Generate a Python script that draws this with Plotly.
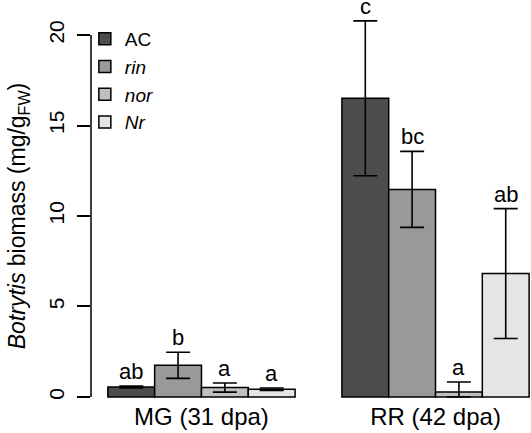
import plotly.graph_objects as go

groups = ["MG (31 dpa)", "RR (42 dpa)"]
genotypes = ["AC", "rin", "nor", "Nr"]
legend_names = ["AC", "<i>rin</i>", "<i>nor</i>", "<i>Nr</i>"]
colors = ["#4D4D4D", "#999999", "#BFBFBF", "#E5E5E5"]

# mean biomass per genotype, [MG, RR]
AC_vals = [0.55, 16.5]
rin_vals = [1.75, 11.47]
nor_vals = [0.52, 0.28]
Nr_vals = [0.43, 6.82]

AC_err = [0.05, 4.28]
rin_err = [0.72, 2.10]
nor_err_plus = [0.25, 0.55]
nor_err_minus = [0.25, 0.28]
Nr_err = [0.07, 3.59]

AC_letters = ["ab", "c"]
rin_letters = ["b", "bc"]
nor_letters = ["a", "a"]
Nr_letters = ["a", "ab"]

values = [AC_vals, rin_vals, nor_vals, Nr_vals]
err_plus = [AC_err, rin_err, nor_err_plus, Nr_err]
err_minus = [AC_err, rin_err, nor_err_minus, Nr_err]
letters = [AC_letters, rin_letters, nor_letters, Nr_letters]

FONT = "Liberation Sans, Arial, sans-serif"

fig = go.Figure()
annotations = []
for i, g in enumerate(genotypes):
    xs = [1 + gi * 5 + i + 0.5 for gi in range(len(groups))]
    fig.add_trace(go.Bar(
        x=xs, y=values[i], width=1, name=legend_names[i],
        marker=dict(color=colors[i], line=dict(color="black", width=1.5)),
        error_y=dict(type="data", symmetric=False, array=err_plus[i],
                     arrayminus=err_minus[i], color="black", thickness=1.6, width=12),
    ))
    for gi in range(len(groups)):
        annotations.append(dict(
            x=xs[gi], y=values[i][gi] + err_plus[i][gi], text=letters[i][gi],
            showarrow=False, yanchor="bottom", yshift=0,
            font=dict(size=22, color="black", family=FONT)))

# y axis line from 0 to 20 only
fig.add_shape(type="line", xref="paper", yref="y", x0=0, x1=0, y0=0, y1=20,
              line=dict(color="black", width=1.5))

fig.update_layout(
    width=531, height=433,
    margin=dict(l=91, r=0, t=20, b=21, autoexpand=False),
    plot_bgcolor="white", paper_bgcolor="white",
    barmode="overlay",
    font=dict(family=FONT, color="black"),
    showlegend=True,
    legend=dict(x=-0.014, y=1.0, xanchor="left", yanchor="top",
                font=dict(size=19, family=FONT), bgcolor="rgba(0,0,0,0)",
                itemwidth=30, tracegroupgap=0),
    annotations=annotations,
)
fig.update_xaxes(range=[0.64, 10.04], tickvals=[3, 8], ticktext=groups,
                 showgrid=False, zeroline=False, showline=False, ticks="",
                 tickfont=dict(size=24, family=FONT, color="black"),
                 ticklabelstandoff=-12)
fig.update_yaxes(range=[-0.83, 20.83], tickvals=[0, 5, 10, 15, 20],
                 showgrid=False, zeroline=False, showline=False,
                 ticks="outside", ticklen=13, tickwidth=1.5, tickcolor="black",
                 tickangle=-90, tickfont=dict(size=21, family=FONT, color="black"),
                 ticklabelstandoff=5,
                 title=dict(text="<i>Botrytis</i> biomass (mg/g<sub>FW</sub>)",
                            font=dict(size=23, family=FONT, color="black"),
                            standoff=12))

fig.write_html("out.html", config={"displayModeBar": False},
               post_script="document.body.style.margin='0';")
